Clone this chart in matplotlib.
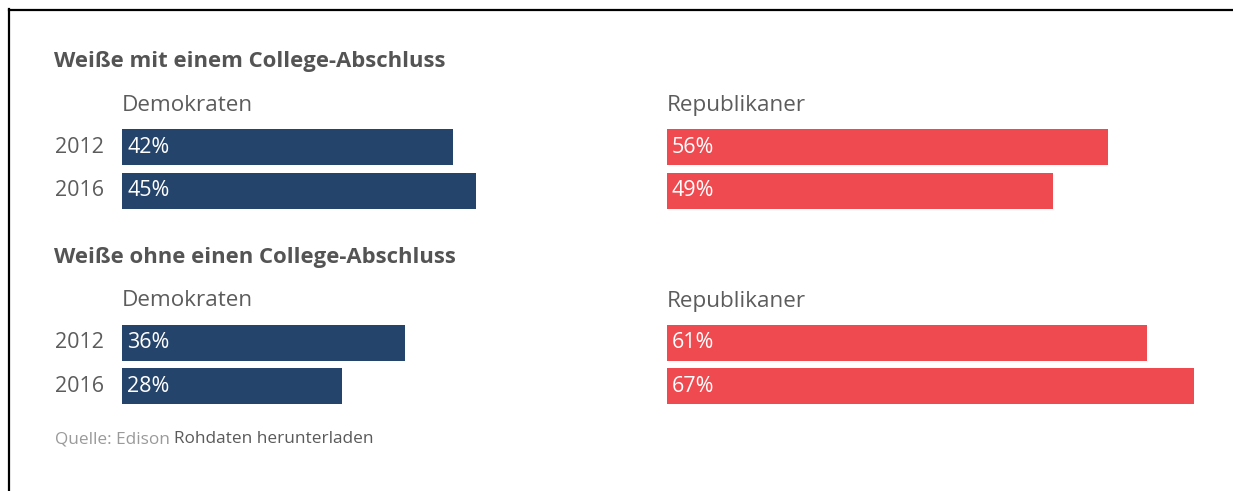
import matplotlib
matplotlib.use("Agg")
import matplotlib.pyplot as plt
from matplotlib.lines import Line2D

# Data
years = ["2012", "2016"]
groups = ["Weiße mit einem College-Abschluss", "Weiße ohne einen College-Abschluss"]
parties = ["Demokraten", "Republikaner"]
dem_values = [[42, 45], [36, 28]]
rep_values = [[56, 49], [61, 67]]
source_prefix = "Quelle: Edison"
source_link = "Rohdaten herunterladen"

plt.rcParams["font.family"] = ["Open Sans", "DejaVu Sans"]

W, H = 1233, 491
fig = plt.figure(figsize=(W / 100, H / 100), dpi=100)
fig.patch.set_facecolor("white")


def fx(x):
    return x / W


def fy(y):
    return 1 - y / H


XMAX = 70
PX_PER_PCT = 7.87
colors = ["#25446b", "#ee4a50"]
panel_left = [122, 667]
group_top = [125.5, 321.0]
row_pitch = 43.5
bar_h = 36 / row_pitch

title_color = "#545454"
label_color = "#5c5c5c"

for g in range(2):
    top = group_top[g]
    fig.text(fx(54), fy(top - 64), groups[g], fontsize=15.9, fontweight="bold",
             color=title_color, va="center", ha="left")
    for p, values in enumerate([dem_values[g], rep_values[g]]):
        fig.text(fx(panel_left[p]), fy(top - 20), parties[p], fontsize=16.2,
                 color=label_color, va="center", ha="left")
        ax = fig.add_axes([fx(panel_left[p]), fy(top + 2 * row_pitch),
                           XMAX * PX_PER_PCT / W, 2 * row_pitch / H])
        ypos = list(range(len(years)))
        ax.barh(ypos, values, height=bar_h, color=colors[p])
        ax.set_xlim(0, XMAX)
        ax.set_ylim(len(years) - 0.5, -0.5)
        ax.axis("off")
        for i, v in enumerate(values):
            ax.annotate(f"{v}%", xy=(0, i), xytext=(5, 0), textcoords="offset pixels",
                        color="white", fontsize=15.5, fontweight="medium",
                        va="center", ha="left", annotation_clip=False)
        if p == 0:
            for i, yr in enumerate(years):
                ax.annotate(yr, xy=(0, i), xytext=(-18, 0), textcoords="offset pixels",
                            color=label_color, fontsize=15.5, va="center", ha="right",
                            annotation_clip=False)

# Source line
t1 = fig.text(fx(55), fy(439), source_prefix, fontsize=12.4, color="#9a9a9a",
              va="center", ha="left")
fig.axes[0].annotate(source_link, xy=(1, 0.5), xycoords=t1, xytext=(4, 0),
                     textcoords="offset pixels", fontsize=12.4, color="#5a5a5a",
                     va="center", ha="left", annotation_clip=False)

# Frame lines on the left and top edges
fig.add_artist(Line2D([fx(9), fx(9)], [0, fy(9)], transform=fig.transFigure,
                      color="black", lw=1.6))
fig.add_artist(Line2D([fx(9), 1], [fy(9.5), fy(9.5)], transform=fig.transFigure,
                      color="black", lw=1.6))

fig.savefig("out.png", dpi=100, facecolor="white")
